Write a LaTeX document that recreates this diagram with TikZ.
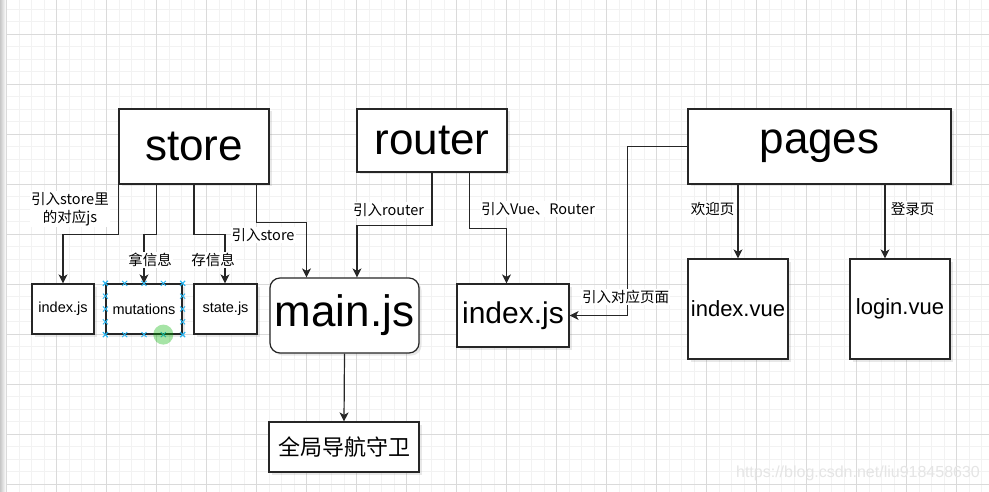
\documentclass[tikz,border=0pt]{standalone}
\usepackage{fontspec}
\setmainfont{Liberation Sans}
\newfontfamily\cjk{Noto Sans CJK SC}
\usetikzlibrary{arrows.meta,shadows,calc}
\newcommand\fsz[1]{\fontsize{#1}{#1}\selectfont}

\begin{document}
\begin{tikzpicture}
[x=1pt,y=-1pt,
box/.style ={rectangle, draw=black!85, line width=1.2pt, fill=white,
inner sep=0pt, drop shadow={shadow xshift=2.5pt,shadow yshift=-2.5pt,opacity=0.18}},
rbox/.style ={box, rounded corners=10pt},
line/.style ={draw=black!85, line width=1.2pt,
-{Stealth[length=9pt,width=9pt,inset=2.5pt]}},
lbl/.style ={fill=white, inner sep=1pt, font=\cjk\fontsize{14.5}{17.5}\selectfont, align=center},
minorline/.style ={draw={rgb,255:red,242;green,242;blue,242}, line width=1pt},
majorline/.style ={draw={rgb,255:red,218;green,218;blue,218}, line width=1pt},
handle/.style ={draw={rgb,255:red,41;green,182;blue,242}, line width=0.9pt}]
\useasboundingbox (0,0) rectangle (989,492);
\fill[white] (0,0) rectangle (989,492);
% grid of the editor
\shade[left color=black!22, right color=white] (0,0) rectangle (6,492);
\foreach \gx in {0,...,78} \draw[minorline] (6.7+12.5*\gx,0) -- ++(0,492);
\foreach \gy in {0,...,38} \draw[minorline] (6.7,9.3+12.5*\gy) -- (989,9.3+12.5*\gy);
\foreach \gx in {0,...,19} \draw[majorline] (6.7+50*\gx,0) -- ++(0,492);
\foreach \gy in {0,...,9} \draw[majorline] (6.7,34.3+50*\gy) -- (989,34.3+50*\gy);

% top row
\node [box, minimum width=150pt, minimum height=75pt, font=\fsz{44}] (store) at (194,146.5) {store};
\node [box, minimum width=150pt, minimum height=63pt, font=\fsz{44}] (router) at (432,140.5) {router};
\node [box, minimum width=263pt, minimum height=75pt, font=\fsz{44}] (pages) at (819.5,146.5) {pages};
% store files
\node [box, minimum width=62pt, minimum height=50pt, font=\fsz{14.5}] (sidx) at (63,309) {index.js};
\node [box, minimum width=76pt, minimum height=50pt, font=\fsz{14.5}] (mut) at (144,309) {mutations};
\node [box, minimum width=63pt, minimum height=50pt, font=\fsz{14.5}] (state) at (225.5,309) {state.js};
% main and router file
\node [rbox, minimum width=149pt, minimum height=75pt, font=\fsz{44}] (main) at (344.5,315.5) {main.js};
\node [box, minimum width=112pt, minimum height=63pt, font=\fsz{30}] (ridx) at (513,315.5) {index.js};
% pages
\node [box, minimum width=100pt, minimum height=100pt, font=\fsz{22}] (ivue) at (738,309) {index.vue};
\node [box, minimum width=100pt, minimum height=100pt, font=\fsz{22}] (lvue) at (900,309) {login.vue};
\node [box, minimum width=150pt, minimum height=50pt, font=\cjk\fsz{22}] (guard) at (344,447) {全局导航守卫};

\begin{scope}[every path/.style=line]
\path (store.south west) -- ++(0,50) -| (sidx.north);
\path ([xshift=-37.5pt]store.south) -- ++(0,50) -| (mut.north);
\path (store.south) -- ++(0,50) -| ([xshift=-0.5pt]state.north);
\path ([xshift=62.5pt]store.south) -- ++(0,38) -| ([xshift=-38pt]main.north);
\path (router.south) -- ++(0,53) -| ([xshift=12.5pt]main.north);
\path ([xshift=37.5pt]router.south) -- ++(0,56) -| ([xshift=-6.5pt]ridx.north);
\path (pages.west) -- ++(-60,0) |- (ridx.east);
\path (pages.south -| ivue.north) -- (ivue.north);
\path ([xshift=-15pt]lvue.north |- pages.south) -- ([xshift=-15pt]lvue.north);
\path (main.south) -- (guard.north);
\end{scope}

% connector labels
\node [lbl] (l1) at (70,209) {引入store里\\的对应js};
\node [lbl] (l2) at (150,260) {拿信息};
\node [lbl] (l3) at (213,260) {存信息};
\node [lbl] (l4) at (263,235) {引入store};
\node [lbl] (l5) at (388.5,210) {引入router};
\node [lbl] (l6) at (538,209) {引入Vue、Router};
\node [lbl] (l7) at (625.5,297) {引入对应页面};
\node [lbl] (l8) at (712.5,209) {欢迎页};
\node [lbl] (l9) at (912.5,209) {登录页};

% selection marks on mutations
\foreach \t in {0,0.25,0.5,0.75,1} {
\draw[handle] ($(mut.north west)!\t!(mut.north east)$) +(-2.5,-2.5) -- +(2.5,2.5) +(-2.5,2.5) -- +(2.5,-2.5);
\draw[handle] ($(mut.south west)!\t!(mut.south east)$) +(-2.5,-2.5) -- +(2.5,2.5) +(-2.5,2.5) -- +(2.5,-2.5);
\draw[handle] ($(mut.north west)!\t!(mut.south west)$) +(-2.5,-2.5) -- +(2.5,2.5) +(-2.5,2.5) -- +(2.5,-2.5);
\draw[handle] ($(mut.north east)!\t!(mut.south east)$) +(-2.5,-2.5) -- +(2.5,2.5) +(-2.5,2.5) -- +(2.5,-2.5);
}
\fill[green!70!black, opacity=0.35] ($(mut.south west)!0.75!(mut.south east)$) circle (10);

\node [text=black!10, font=\fsz{16}] (mark) at (858,473) {https://blog.csdn.net/liu918458630};
\end{tikzpicture}
\end{document}
